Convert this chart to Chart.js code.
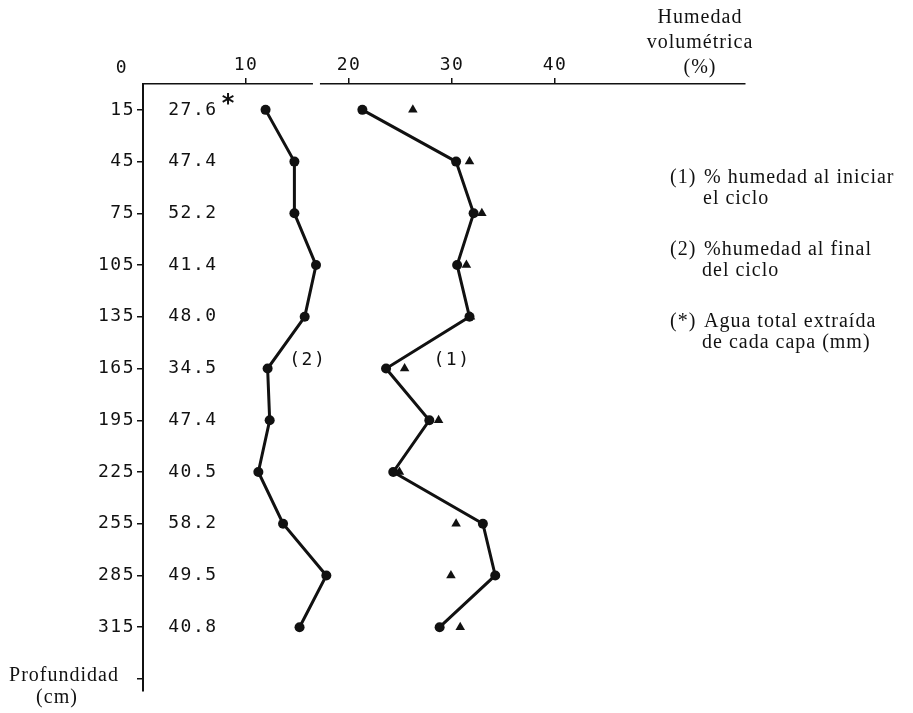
<!DOCTYPE html>
<html>
<head>
<meta charset="utf-8">
<script src="https://cdn.jsdelivr.net/npm/chart.js@4.4.0/dist/chart.umd.min.js"></script>
<style>
  html, body { margin: 0; padding: 0; background: #fff; }
</style>
</head>
<body>
<canvas id="Chart1" width="913" height="713"></canvas>
<script>
// depth of each soil layer (cm)
var depths = [15, 45, 75, 105, 135, 165, 195, 225, 255, 285, 315];
// (1) % humedad al iniciar el ciclo
var moistStart = [21.3, 30.4, 32.1, 30.5, 31.7, 23.6, 27.8, 24.3, 33.0, 34.2, 28.8];
// (2) % humedad al final del ciclo
var moistEnd = [11.9, 14.7, 14.7, 16.8, 15.7, 12.1, 12.3, 11.2, 13.6, 17.8, 15.2];
// triangles drawn next to curve (1)
var triangles = [26.2, 31.7, 32.9, 31.4, 31.8, 25.4, 28.7, 24.9, 30.4, 29.9, 30.8];
// (*) agua total extraida de cada capa (mm)
var waterOut = ['27.6', '47.4', '52.2', '41.4', '48.0', '34.5', '47.4', '40.5', '58.2', '49.5', '40.8'];
var xTicks = [10, 20, 30, 40];
var yTicks = [15, 45, 75, 105, 135, 165, 195, 225, 255, 285, 315, 345];

var ink = '#111';
var monoFont = '18px "DejaVu Sans Mono"';
var serifFont = '20px "Liberation Serif"';

function toPoints(values) {
    return depths.map(function (d, i) { return { x: values[i], y: d }; });
}

var annotations = {
    id: 'annotations',
    beforeDraw: function (chart) {
        chart.ctx.letterSpacing = '1.5px';
    },
    afterDraw: function (chart) {
        var ctx = chart.ctx;
        var xs = chart.scales.x, ys = chart.scales.y;
        var top = chart.chartArea.top;
        ctx.save();

        // small break in the top axis
        ctx.fillStyle = '#fff';
        ctx.fillRect(xs.getPixelForValue(16.5), top - 3, 7, 6);

        ctx.fillStyle = ink;
        ctx.textBaseline = 'middle';

        // water extracted per layer
        ctx.font = monoFont;
        ctx.letterSpacing = '1.5px';
        ctx.textAlign = 'center';
        waterOut.forEach(function (t, i) {
            ctx.fillText(t, xs.getPixelForValue(4.85), ys.getPixelForValue(depths[i]));
        });
        ctx.fillText('(2)', xs.getPixelForValue(16.0), ys.getPixelForValue(160));
        ctx.fillText('(1)', xs.getPixelForValue(30.0), ys.getPixelForValue(160));
        // the lone 0 of the top axis, set left of the corner
        ctx.fillText('0', xs.getPixelForValue(0) - 21, top - 16);

        ctx.font = 'bold 24px "DejaVu Sans"';
        ctx.letterSpacing = '0px';
        ctx.fillText('*', xs.getPixelForValue(0) + 85, top + 21);

        // titles and notes
        ctx.font = serifFont;
        ctx.letterSpacing = '1px';
        ctx.fillText('Humedad', 700, 18);
        ctx.fillText('volumétrica', 700, 43);
        ctx.fillText('(%)', 700, 68);
        ctx.fillText('Profundidad', 64, 676);
        ctx.fillText('(cm)', 57, 698);

        ctx.textAlign = 'left';
        ctx.fillText('(1)', 670, 178);
        ctx.fillText('% humedad al iniciar', 704, 178);
        ctx.fillText('el ciclo', 703, 199);
        ctx.fillText('(2)', 670, 250);
        ctx.fillText('%humedad al final', 704, 250);
        ctx.fillText('del ciclo', 702, 271);
        ctx.fillText('(*)', 670, 322);
        ctx.fillText('Agua total extraída', 704, 322);
        ctx.fillText('de cada capa (mm)', 702, 343);

        ctx.restore();
        ctx.letterSpacing = '0px';
    }
};

var ctx1 = document.getElementById('Chart1').getContext('2d');
var chart1 = new Chart(ctx1, {
    type: 'scatter',
    data: {
        datasets: [
            {
                label: '(1)',
                data: toPoints(moistStart),
                showLine: true,
                borderColor: ink,
                borderWidth: 3,
                pointRadius: 5,
                pointBackgroundColor: ink,
                pointBorderWidth: 0
            },
            {
                label: '(2)',
                data: toPoints(moistEnd),
                showLine: true,
                borderColor: ink,
                borderWidth: 3,
                pointRadius: 5,
                pointBackgroundColor: ink,
                pointBorderWidth: 0
            },
            {
                label: 'triangulos',
                data: toPoints(triangles),
                showLine: false,
                pointStyle: 'triangle',
                pointRadius: 5.5,
                pointBackgroundColor: ink,
                pointBorderColor: ink,
                pointBorderWidth: 0
            }
        ]
    },
    options: {
        responsive: false,
        animation: false,
        layout: { padding: { left: 0, top: 0, right: 168, bottom: 22 } },
        plugins: {
            legend: { display: false },
            tooltip: { enabled: false }
        },
        scales: {
            x: {
                type: 'linear',
                position: 'top',
                min: 0,
                max: 58.45,
                afterBuildTicks: function (s) {
                    s.ticks = xTicks.map(function (v) { return { value: v }; });
                },
                afterFit: function (s) { s.height = 84; },
                grid: { drawOnChartArea: false, tickLength: 6, color: ink, lineWidth: 1.5 },
                border: { color: ink, width: 1.5 },
                ticks: {
                    color: ink,
                    maxRotation: 0,
                    padding: 2,
                    font: { family: 'DejaVu Sans Mono', size: 18 }
                }
            },
            y: {
                type: 'linear',
                reverse: true,
                min: 0,
                max: 352,
                afterBuildTicks: function (s) {
                    s.ticks = yTicks.map(function (v) { return { value: v }; });
                },
                afterFit: function (s) { s.width = 143; },
                grid: { drawOnChartArea: false, tickLength: 6, color: ink, lineWidth: 1.5 },
                border: { color: ink, width: 2 },
                ticks: {
                    color: ink,
                    padding: 2,
                    font: { family: 'DejaVu Sans Mono', size: 18 },
                    callback: function (v) { return v === 345 ? '' : String(v); }
                }
            }
        }
    },
    plugins: [annotations]
});
</script>
</body>
</html>
